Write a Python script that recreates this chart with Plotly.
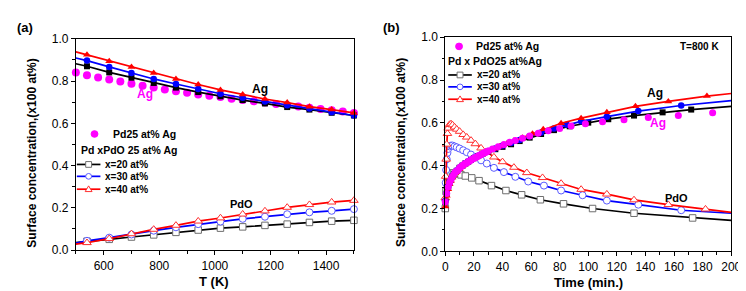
import plotly.graph_objects as go

W, H = 746, 291
def px(x): return x / W
def py(y): return 1 - y / H

# ---------------- Panel (a) data: surface concentration vs T ----------------
T_a = [500, 540, 620, 700, 780, 860, 940, 1020, 1100, 1180, 1260, 1340, 1420, 1500]
ag_x20_a = [0.882, 0.870, 0.841, 0.816, 0.791, 0.769, 0.748, 0.728, 0.710, 0.694, 0.677, 0.665, 0.650, 0.637]
ag_x30_a = [0.909, 0.897, 0.867, 0.838, 0.810, 0.786, 0.763, 0.740, 0.721, 0.703, 0.685, 0.670, 0.653, 0.637]
ag_x40_a = [0.938, 0.924, 0.894, 0.867, 0.838, 0.810, 0.784, 0.758, 0.737, 0.715, 0.698, 0.679, 0.665, 0.649]
pdo_x20_a = [0.036, 0.042, 0.051, 0.062, 0.072, 0.084, 0.095, 0.104, 0.110, 0.117, 0.123, 0.131, 0.137, 0.141]
pdo_x30_a = [0.033, 0.044, 0.059, 0.074, 0.092, 0.108, 0.123, 0.135, 0.148, 0.158, 0.170, 0.179, 0.186, 0.194]
pdo_x40_a = [0.028, 0.035, 0.054, 0.077, 0.098, 0.117, 0.137, 0.152, 0.170, 0.185, 0.202, 0.215, 0.227, 0.235]
T_pd_a = [500, 540, 580, 620, 660, 700, 740, 780, 820, 860, 900, 940, 980, 1020, 1060,
          1100, 1140, 1180, 1220, 1260, 1300, 1340, 1380, 1420, 1460, 1500]
pd_ag_a = [0.840, 0.828, 0.817, 0.807, 0.798, 0.787, 0.778, 0.769, 0.760, 0.752, 0.745, 0.737, 0.730,
           0.724, 0.716, 0.710, 0.704, 0.698, 0.692, 0.686, 0.680, 0.674, 0.668, 0.662, 0.656, 0.649]

# ---------------- Panel (b) data: surface concentration vs time at 800 K ----------------
t_pd_b = [0, 1, 2, 3, 4, 5, 6, 7, 8, 9, 10, 11, 12, 13, 14, 15, 16, 17, 18, 19, 20, 21, 22, 23, 24,
          25, 26, 27, 28, 29, 30, 33, 37, 41, 45, 49, 54, 59, 65, 72, 80, 88, 98, 110, 125, 142, 163, 187]
pd_ag_b = [0.23, 0.27, 0.30, 0.32, 0.335, 0.35, 0.36, 0.37, 0.375, 0.38, 0.39, 0.395, 0.40, 0.405, 0.41,
           0.413, 0.418, 0.422, 0.427, 0.431, 0.435, 0.438, 0.441, 0.445, 0.449, 0.452, 0.456, 0.459,
           0.462, 0.465, 0.468, 0.478, 0.488, 0.499, 0.509, 0.518, 0.528, 0.539, 0.551, 0.563, 0.574,
           0.585, 0.596, 0.605, 0.615, 0.625, 0.634, 0.647]

t_ag40_b = [0, 1, 2, 3, 4, 5, 6, 7, 8, 10, 12, 14, 16, 18, 20, 22, 24, 26, 28, 30,
            34, 38, 43, 48, 54, 61, 68.5, 81, 95, 113, 133, 156, 183, 200]
ag40_b = [0.21, 0.26, 0.29, 0.315, 0.33, 0.345, 0.355, 0.365, 0.372, 0.385, 0.397, 0.407, 0.416, 0.425,
          0.433, 0.44, 0.447, 0.454, 0.46, 0.466, 0.478, 0.49, 0.503, 0.516, 0.531, 0.549, 0.570,
          0.598, 0.622, 0.649, 0.677, 0.700, 0.725, 0.737]
t_ag30_b = [0, 1, 2, 3, 4, 5, 6, 8, 10, 12, 14, 16, 18, 20, 23, 26, 30, 35, 40, 46, 52, 59, 67, 76,
            85, 95, 113, 135, 165, 200]
ag30_b = [0.235, 0.272, 0.302, 0.322, 0.337, 0.351, 0.361, 0.377, 0.391, 0.401, 0.411, 0.419, 0.428,
          0.436, 0.446, 0.456, 0.468, 0.48, 0.493, 0.506, 0.52, 0.537, 0.555, 0.574, 0.591, 0.607,
          0.629, 0.655, 0.681, 0.704]
t_ag20_b = [0, 1, 2, 3, 4, 5, 6, 8, 10, 12, 14, 16, 18, 20, 23, 26, 30, 35, 40, 46, 52, 59, 67, 76,
            87, 100, 114, 132, 152, 172, 200]
ag20_b = [0.23, 0.27, 0.30, 0.32, 0.335, 0.35, 0.36, 0.376, 0.39, 0.40, 0.41, 0.418, 0.427, 0.435,
          0.445, 0.455, 0.466, 0.477, 0.488, 0.5, 0.515, 0.531, 0.548, 0.566, 0.584, 0.601, 0.617,
          0.634, 0.649, 0.662, 0.677]

t_pdo40_b = [0, 0.3, 0.6, 1, 1.5, 2, 3, 4, 5, 6.5, 8, 10, 12.5, 15, 18, 21, 25, 29, 34, 40, 48, 57,
             68, 81, 95, 113, 132, 156, 182, 200]
pdo40_b = [0.25, 0.35, 0.43, 0.5, 0.55, 0.575, 0.592, 0.595, 0.59, 0.58, 0.57, 0.56, 0.545, 0.533,
           0.518, 0.502, 0.482, 0.462, 0.44, 0.418, 0.392, 0.367, 0.344, 0.317, 0.289, 0.267, 0.24,
           0.218, 0.197, 0.182]
t_pdo30_b = [0, 0.3, 0.6, 1, 1.5, 2, 3, 4, 5, 6.5, 8, 10, 12.5, 15, 18, 21, 25, 29, 34, 41, 49, 58,
             69, 81, 96, 113, 135, 165, 200]
pdo30_b = [0.24, 0.32, 0.38, 0.43, 0.46, 0.478, 0.49, 0.494, 0.494, 0.49, 0.486, 0.48, 0.472, 0.463,
           0.452, 0.44, 0.425, 0.41, 0.39, 0.37, 0.348, 0.326, 0.307, 0.284, 0.262, 0.237, 0.218,
           0.192, 0.178]
t_pdo20_b = [0, 0.5, 1, 1.5, 2, 3, 4, 5.7, 8, 11, 14, 18.5, 23.6, 32.3, 42.4, 53.4, 66.5, 82.7, 103,
             132, 173, 200]
pdo20_b = [0.2, 0.28, 0.32, 0.34, 0.352, 0.362, 0.366, 0.365, 0.362, 0.357, 0.352, 0.343, 0.33,
           0.307, 0.284, 0.264, 0.241, 0.222, 0.2, 0.178, 0.156, 0.145]

RED = '#FF0000'
BLUE = '#0000FF'
BLACK = '#000000'
MAG = '#FF00FF'
GREY_EDGE = '#6E6E6E'
BLUE_EDGE = '#5A5AFF'
RED_EDGE = '#FF3030'
FONT = 'Liberation Sans, Arial, sans-serif'

fig = go.Figure()

def add_series(x, y, color, symbol, size, xa, ya, mslice, open_=False, edge=None, name=''):
    fig.add_trace(go.Scatter(x=x, y=y, mode='lines', line=dict(color=color, width=1.7),
                             xaxis=xa, yaxis=ya, showlegend=False, hoverinfo='skip', name=name))
    if open_:
        marker = dict(symbol=symbol, size=size, color='white', line=dict(color=edge, width=1))
    else:
        marker = dict(symbol=symbol, size=size, color=color, line=dict(width=0))
    fig.add_trace(go.Scatter(x=x[mslice], y=y[mslice], mode='markers', marker=marker,
                             xaxis=xa, yaxis=ya, showlegend=False, cliponaxis=False, name=name))

s_a = slice(1, None)
# Panel (a)
add_series(T_a, pdo_x20_a, BLACK, 'square', 6.5, 'x', 'y', s_a, True, GREY_EDGE, 'PdO x=20')
add_series(T_a, pdo_x30_a, BLUE, 'circle', 7, 'x', 'y', s_a, True, BLUE_EDGE, 'PdO x=30')
add_series(T_a, pdo_x40_a, RED, 'triangle-up', 7.5, 'x', 'y', s_a, True, RED_EDGE, 'PdO x=40')
fig.add_trace(go.Scatter(x=T_pd_a, y=pd_ag_a, mode='markers', marker=dict(color=MAG, size=8),
                         xaxis='x', yaxis='y', showlegend=False, cliponaxis=False, name='Pd25 at% Ag'))
add_series(T_a, ag_x20_a, BLACK, 'square', 6, 'x', 'y', s_a, name='Ag x=20')
add_series(T_a, ag_x30_a, BLUE, 'circle', 6.5, 'x', 'y', s_a, name='Ag x=30')
add_series(T_a, ag_x40_a, RED, 'triangle-up', 7, 'x', 'y', s_a, name='Ag x=40')

# Panel (b)
s_b = slice(0, -1)
add_series(t_pdo20_b, pdo20_b, BLACK, 'square', 6.5, 'x2', 'y2', s_b, True, GREY_EDGE, 'PdO x=20')
add_series(t_pdo30_b, pdo30_b, BLUE, 'circle', 7, 'x2', 'y2', s_b, True, BLUE_EDGE, 'PdO x=30')
add_series(t_pdo40_b, pdo40_b, RED, 'triangle-up', 7.5, 'x2', 'y2', s_b, True, RED_EDGE, 'PdO x=40')
add_series(t_ag20_b, ag20_b, BLACK, 'square', 6, 'x2', 'y2', s_b, name='Ag x=20')
add_series(t_ag30_b, ag30_b, BLUE, 'circle', 6.5, 'x2', 'y2', s_b, name='Ag x=30')
add_series(t_ag40_b, ag40_b, RED, 'triangle-up', 7, 'x2', 'y2', s_b, name='Ag x=40')
fig.add_trace(go.Scatter(x=t_pd_b, y=pd_ag_b, mode='markers', marker=dict(color=MAG, size=7),
                         xaxis='x2', yaxis='y2', showlegend=False, cliponaxis=False, name='Pd25 at% Ag'))

tickfont = dict(family=FONT, size=12, color='black')
def xaxis_cfg(dom, rng, dtick, minor):
    return dict(domain=dom, range=rng, dtick=dtick, tick0=0, showline=True, mirror=True,
                linecolor='black', linewidth=1, ticks='outside', ticklen=4, tickwidth=1,
                tickcolor='black', showgrid=False, zeroline=False, tickfont=tickfont,
                minor=dict(dtick=minor, ticks='outside', ticklen=2.5, tickcolor='black', showgrid=False))
def yaxis_cfg(dom, anchor):
    return dict(domain=dom, range=[0, 1], dtick=0.2, tick0=0, tickformat='.1f', anchor=anchor,
                showline=True, mirror=True, linecolor='black', linewidth=1, ticks='outside',
                ticklen=4, tickwidth=1, tickcolor='black', showgrid=False, zeroline=False,
                tickfont=tickfont,
                minor=dict(dtick=0.1, ticks='outside', ticklen=2.5, tickcolor='black', showgrid=False))

fig.update_layout(
    width=W, height=H, autosize=False,
    margin=dict(l=0, r=0, t=0, b=0),
    paper_bgcolor='white', plot_bgcolor='white',
    showlegend=False,
    xaxis=dict(xaxis_cfg([px(66), px(349)], [500, 1500], 200, 100), anchor='y'),
    yaxis=yaxis_cfg([py(247), py(25)], 'x'),
    xaxis2=dict(xaxis_cfg([px(442), px(733)], [0, 200], 20, 10), anchor='y2'),
    yaxis2=yaxis_cfg([py(248.3), py(23.3)], 'x2'),
)

annotations = []
shapes = []

def txt(x, y, text, size=11, color='black', bold=True, xanchor='center', angle=0):
    annotations.append(dict(x=px(x), y=py(y), xref='paper', yref='paper', text=f'<b>{text}</b>' if bold else text,
                            showarrow=False, xanchor=xanchor, yanchor='middle', textangle=angle,
                            font=dict(family=FONT, size=size, color=color)))

def data_txt(xa, ya, x, y, text, size=11, color='black'):
    annotations.append(dict(x=x, y=y, xref=xa, yref=ya, text=f'<b>{text}</b>', showarrow=False,
                            xanchor='center', yanchor='middle', font=dict(family=FONT, size=size, color=color)))

# panel labels and axis titles
txt(14, 13, '(a)', 13)
txt(387, 13, '(b)', 13)
txt(207, 280, 'T (K)', 13)
txt(588, 281, 'Time (min.)', 13)
txt(21, 145, 'Surface concentration,(x100 at%)', 12, angle=-90)
txt(397, 145, 'Surface concentration,(x100 at%)', 12, angle=-90)

# in-plot labels
data_txt('x', 'y', 1161, 0.763, 'Ag', 12)
data_txt('x', 'y', 747, 0.74, 'Ag', 12, MAG)
data_txt('x', 'y', 1094, 0.218, 'PdO', 11)
data_txt('x2', 'y2', 147, 0.739, 'Ag', 12)
data_txt('x2', 'y2', 149, 0.60, 'Ag', 12, MAG)
data_txt('x2', 'y2', 161.5, 0.248, 'PdO', 11)
data_txt('x2', 'y2', 178, 0.957, 'T=800 K', 10)

# legends (drawn as layout decorations)
def mark_shape(cx, cy, kind, fill, edge, r):
    if kind == 'circle':
        shapes.append(dict(type='circle', xref='paper', yref='paper', x0=px(cx - r), x1=px(cx + r),
                           y0=py(cy + r), y1=py(cy - r), fillcolor=fill, line=dict(color=edge, width=1)))
    elif kind == 'square':
        shapes.append(dict(type='rect', xref='paper', yref='paper', x0=px(cx - r), x1=px(cx + r),
                           y0=py(cy + r), y1=py(cy - r), fillcolor=fill, line=dict(color=edge, width=1)))
    else:
        path = (f'M{px(cx)},{py(cy - r - 0.5)} L{px(cx + r + 0.5)},{py(cy + r - 0.5)} '
                f'L{px(cx - r - 0.5)},{py(cy + r - 0.5)} Z')
        shapes.append(dict(type='path', xref='paper', yref='paper', path=path, fillcolor=fill,
                           line=dict(color=edge, width=1)))

legend_rows = [('x=20 at%', BLACK, GREY_EDGE, 'square'),
               ('x=30 at%', BLUE, BLUE_EDGE, 'circle'),
               ('x=40 at%', RED, RED_EDGE, 'triangle')]

def draw_legend(x0, y_dot, dot_x, text_x, y_rows, line_len, lsize):
    mark_shape(dot_x, y_dot, 'circle', MAG, MAG, 3.5)
    txt(text_x, y_dot, 'Pd25 at% Ag', lsize, xanchor='left')
    for (label, col, edge, kind), yy in zip(legend_rows, y_rows):
        shapes.append(dict(type='line', xref='paper', yref='paper', x0=px(x0), x1=px(x0 + line_len),
                           y0=py(yy), y1=py(yy), line=dict(color=col, width=1.7)))
        mark_shape(x0 + line_len / 2, yy, kind, 'white', edge, 3)
        txt(x0 + line_len + 3, yy, label, lsize - 0.5, xanchor='left')

draw_legend(67, 125, 85, 102, [157, 169.5, 183], 24, 10.5)
txt(69, 142, 'Pd xPdO 25 at% Ag', 10.5, xanchor='left')
draw_legend(445, 33, 456, 471, [63, 75.5, 88.5], 24, 10.5)
txt(443, 48, 'Pd x PdO25 at%Ag', 10.5, xanchor='left')

fig.update_layout(annotations=annotations, shapes=shapes)
fig.write_html('out.html')
